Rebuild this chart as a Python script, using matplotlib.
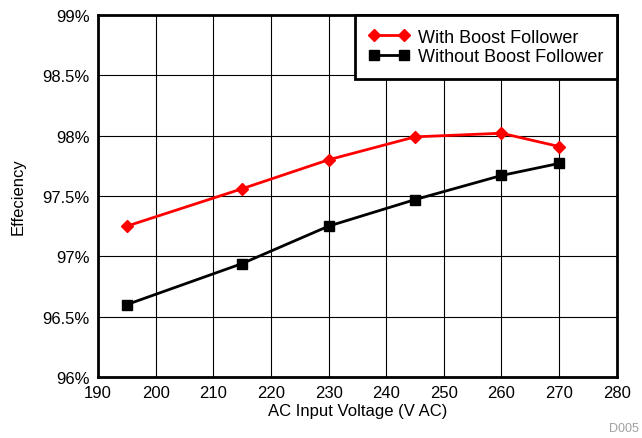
import matplotlib
matplotlib.use('Agg')
import matplotlib.pyplot as plt
from matplotlib.ticker import FuncFormatter

plt.rcParams['font.family'] = ['Liberation Sans', 'DejaVu Sans']

# Dados
tensao = [195, 215, 230, 245, 260, 270]
com_boost = [97.25, 97.56, 97.80, 97.99, 98.02, 97.91]
sem_boost = [96.60, 96.94, 97.25, 97.47, 97.67, 97.77]
x_ticks = list(range(190, 281, 10))
y_ticks = [96, 96.5, 97, 97.5, 98, 98.5, 99]

fig = plt.figure(figsize=(6.42, 4.39), dpi=100)
ax = fig.add_axes([0.1527, 0.139, 0.808, 0.8246])

ax.plot(tensao, com_boost, color='#ff0000', marker='D', markersize=6, linewidth=2,
        label='With Boost Follower')
ax.plot(tensao, sem_boost, color='black', marker='s', markersize=7, linewidth=2,
        label='Without Boost Follower')

ax.set_xlim(190, 280)
ax.set_ylim(96, 99)
ax.set_xticks(x_ticks)
ax.set_yticks(y_ticks)
ax.yaxis.set_major_formatter(FuncFormatter(lambda v, p: ('%g' % v) + '%'))
ax.grid(True, color='black', linewidth=0.8)
ax.tick_params(length=0, labelsize=12, pad=6)
for s in ax.spines.values():
    s.set_linewidth(2)

ax.set_xlabel('AC Input Voltage (V AC)', fontsize=12, labelpad=2)
ax.set_ylabel('Effeciency', fontsize=12, labelpad=12)

leg = ax.legend(loc='upper right', fontsize=13, frameon=True, fancybox=False,
                borderaxespad=0, handlelength=2.3, labelspacing=0.15, numpoints=2,
                borderpad=0.75, handletextpad=0.45)
leg.get_frame().set_edgecolor('black')
leg.get_frame().set_linewidth(2)
leg.get_frame().set_alpha(1)

fig.text(0.995, 0.01, 'D005', fontsize=9, color='#a0a0a0', ha='right', va='bottom')

fig.savefig('out.png', dpi=100)
